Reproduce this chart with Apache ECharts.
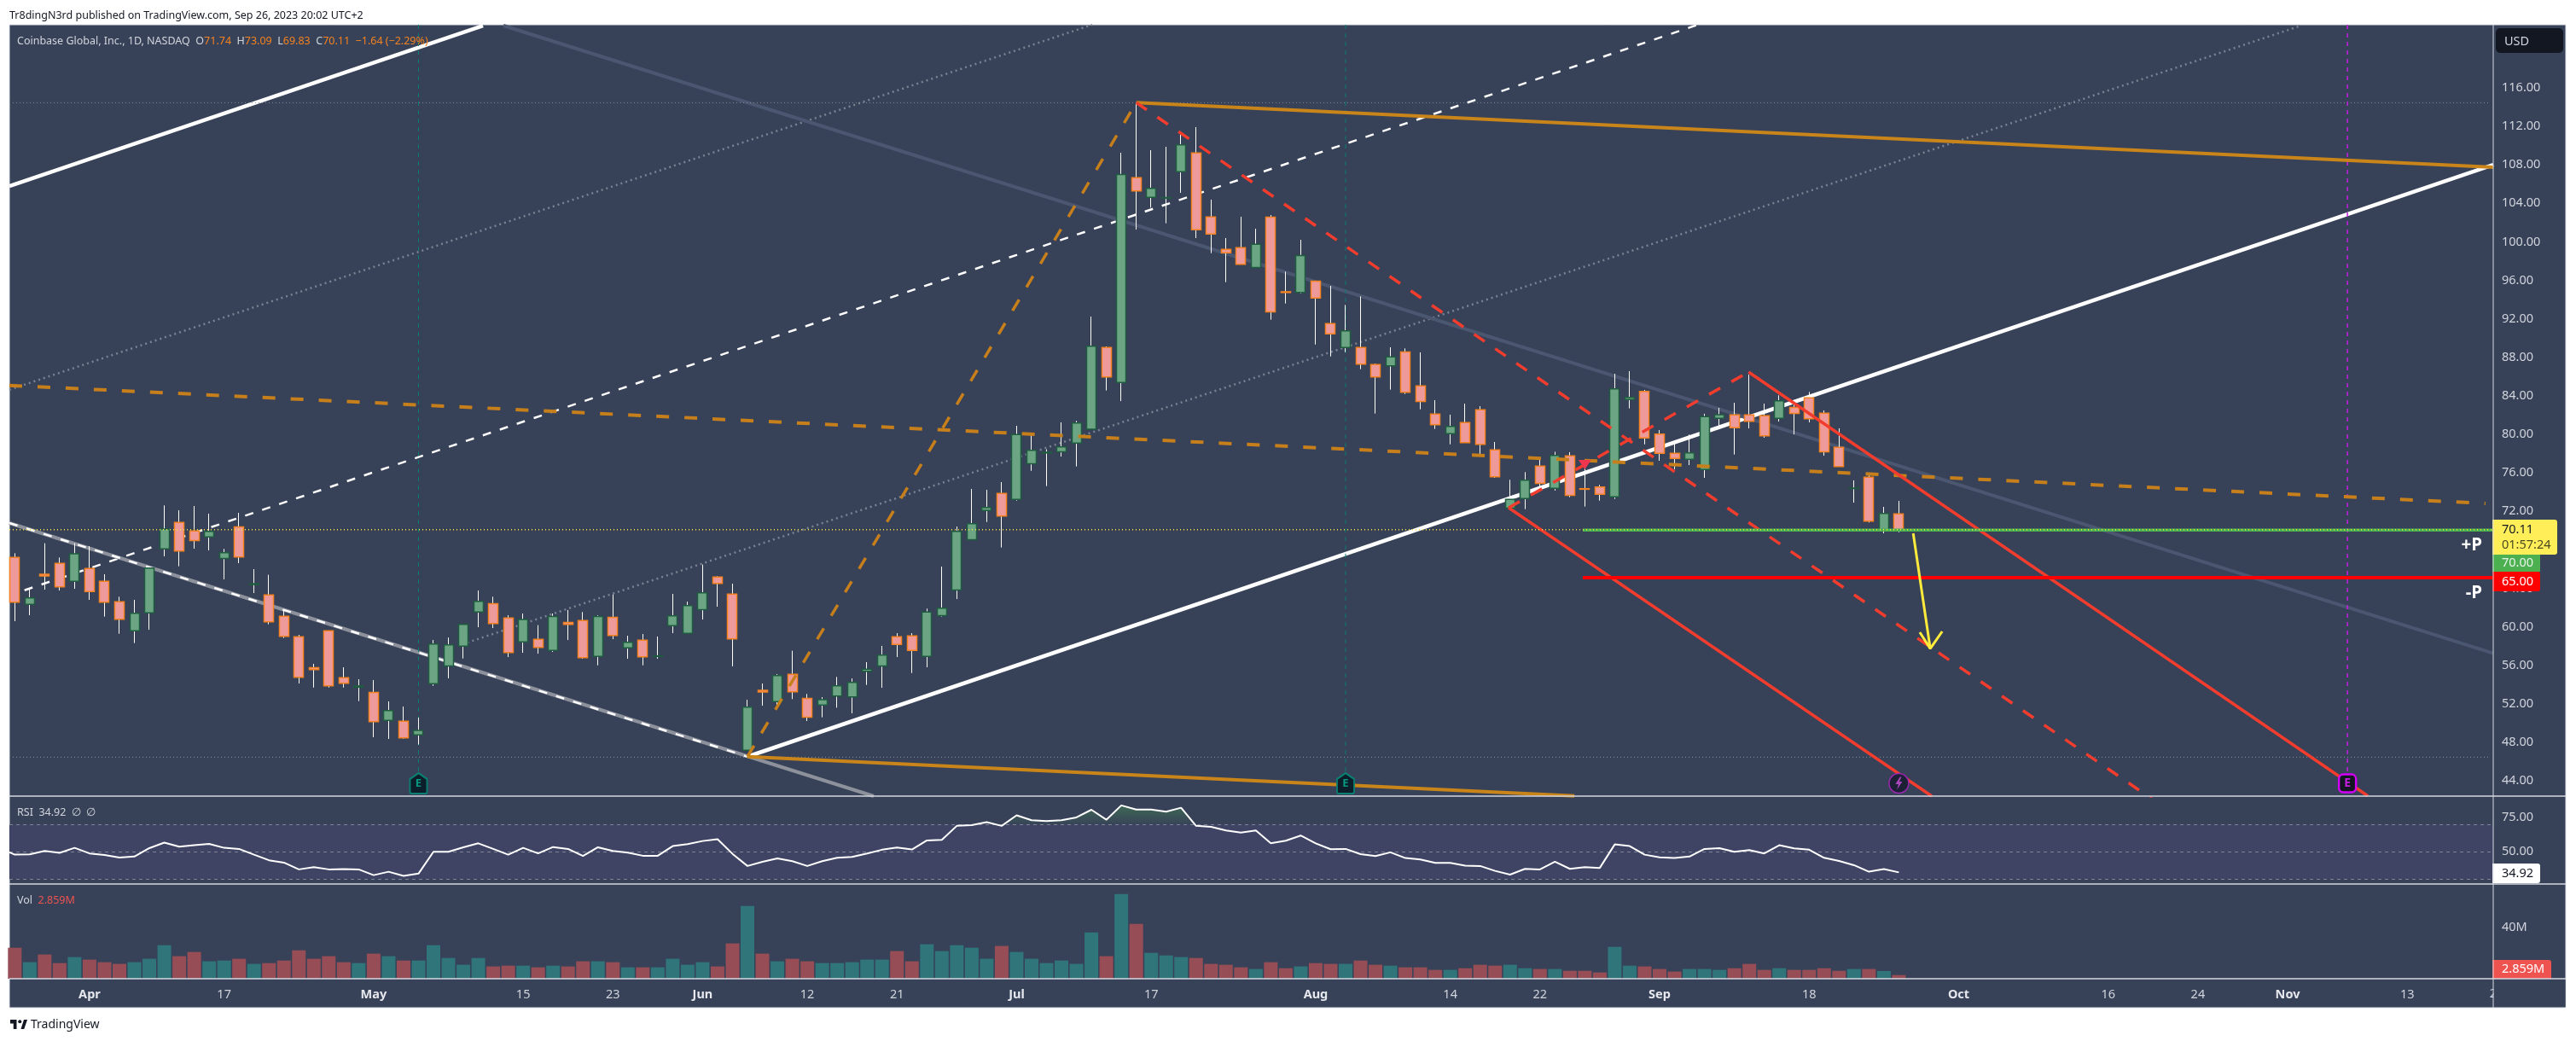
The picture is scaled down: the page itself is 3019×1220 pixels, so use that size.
<!DOCTYPE html>
<html lang="en">
<head>
<meta charset="utf-8">
<title>COIN 1D</title>
<script src="https://cdn.jsdelivr.net/npm/echarts@6/dist/echarts.min.js"></script>
<style>
  html, body { margin: 0; padding: 0; background: #fff; }
  #main { width: 3019px; height: 1220px; }
</style>
</head>
<body>
<div id="main"></div>
<script>
// candles, one entry per trading day from Mar 27 2023
var opens = [67.21,62.34,65.47,66.59,64.73,66.06,64.73,62.6,59.59,61.45,68.1,70.85,69.96,69.34,67.12,70.4,64.4,63.31,61.1,58.97,55.77,59.59,54.71,53.74,53.2,50.28,50.19,48.77,54.09,55.95,57.99,61.54,62.42,60.92,58.44,58.7,57.55,60.47,60.65,56.93,61.0,57.82,58.61,56.93,60.12,59.32,61.8,65.17,63.4,47.18,53.41,52.23,55.07,52.58,51.88,52.82,52.73,55.39,55.95,58.97,59.06,56.93,61.18,63.84,69.07,72.09,73.86,73.24,76.96,78.07,78.2,79.09,80.54,89.02,85.39,106.66,104.62,104.55,107.28,109.23,102.59,99.22,99.39,97.35,102.58,94.82,94.75,95.93,91.5,89.02,89.02,87.25,87.13,88.57,85.03,82.11,80.07,81.22,82.55,78.38,72.35,73.33,76.7,74.39,77.76,74.36,74.54,73.51,83.61,84.47,80.04,78.03,77.41,76.34,81.66,82.02,82.02,81.93,81.66,82.81,83.79,82.2,78.65,74.38,75.55,70.02,71.74];
var closes = [62.57,63.02,65.29,64.17,67.6,63.67,62.57,60.8,61.42,66.12,70.17,67.89,68.96,69.93,67.71,67.27,64.49,60.53,59.03,54.77,55.57,53.88,54.15,53.86,50.16,51.31,48.48,49.25,58.23,58.14,60.27,62.66,60.36,57.34,60.77,57.87,61.07,60.27,56.81,61.07,59.11,58.41,56.9,56.99,61.15,62.22,63.55,64.52,58.76,51.67,53.24,54.95,53.26,50.61,52.44,53.88,54.24,55.6,57.08,58.17,57.55,61.54,61.95,69.93,70.73,72.41,71.53,79.98,78.35,78.15,78.71,81.19,89.17,85.98,107.0,105.3,105.57,104.6,110.09,101.26,100.81,98.86,97.68,99.75,92.74,94.74,98.59,94.16,90.44,90.76,87.31,85.98,88.05,84.38,83.41,81.01,80.83,79.15,78.97,75.6,73.24,75.25,74.92,77.82,73.68,74.3,73.77,84.73,83.85,79.62,78.03,77.5,78.09,81.84,82.05,80.69,81.37,79.86,83.49,82.17,81.63,78.18,76.67,74.42,70.99,71.79,70.11];
var lows = [60.59,61.21,63.87,63.78,63.96,62.81,61.07,59.29,58.32,59.7,67.33,66.3,68.13,67.95,64.94,66.62,63.52,60.27,58.85,54.12,53.7,53.7,53.7,52.29,48.53,48.36,48.39,47.77,53.88,54.65,56.72,59.97,59.88,56.87,57.31,57.22,57.4,58.64,56.69,56.01,58.73,56.69,56.01,56.69,59.35,59.29,60.77,62.1,55.9,47.12,51.82,51.7,52.5,50.22,50.61,51.61,51.02,53.97,53.68,56.87,55.21,55.81,61.07,62.9,69.07,70.9,68.25,73.12,76.22,74.63,77.7,76.67,80.54,84.56,83.46,101.28,103.56,101.94,105.1,100.4,98.83,95.82,97.68,97.35,91.92,93.6,94.63,89.34,88.1,88.55,86.78,82.17,84.65,84.2,82.61,80.57,78.97,79.15,77.91,75.49,72.3,72.24,74.6,74.16,73.48,72.5,73.12,73.3,82.7,78.97,77.26,76.37,76.81,75.49,80.8,77.91,80.63,79.65,81.34,80.0,81.25,77.79,76.67,72.91,70.85,69.72,69.83];
var highs = [67.65,63.96,68.69,67.21,68.69,68.39,65.47,63.13,62.81,66.12,72.62,72.12,72.56,71.76,68.1,71.85,66.0,65.41,61.75,59.17,56.16,59.59,55.8,54.56,54.47,52.26,51.73,50.58,58.64,58.9,60.27,63.78,63.13,61.21,61.39,60.18,61.39,61.75,61.54,61.21,63.37,59.08,59.26,59.0,63.43,62.63,66.47,65.26,64.49,52.44,54.12,55.1,57.52,53.03,52.7,54.8,54.65,56.34,58.02,59.35,59.35,61.9,66.27,70.43,74.33,74.24,75.04,80.89,80.01,78.44,81.25,81.4,92.24,89.14,109.26,114.46,109.53,109.88,111.12,111.92,104.39,100.4,102.61,101.37,102.79,96.91,100.22,95.93,95.43,93.45,94.34,87.36,89.05,88.93,88.52,83.55,82.05,83.2,82.93,79.21,75.28,76.08,77.52,78.2,78.15,77.26,74.75,86.3,86.57,84.62,80.45,79.36,79.98,82.14,82.76,83.29,86.21,83.2,84.06,83.11,84.41,82.49,80.63,75.22,76.02,72.47,73.09];

// volume in millions
var volumes = [24.2,12.9,18.9,12.2,16.9,14.9,12.9,11.6,12.9,15.6,26.2,17.6,20.9,13.6,14.2,15.6,11.6,12.2,14.2,22.2,15.6,17.6,12.9,12.2,19.6,17.6,14.2,14.2,26.2,16.2,10.9,16.2,9.6,10.2,10.2,8.9,10.2,9.6,13.6,13.6,12.9,8.9,8.9,8.9,15.6,10.9,12.9,9.6,27.6,56.9,19.6,13.6,15.6,13.6,12.2,12.2,12.9,14.9,14.9,21.6,13.6,26.9,21.6,26.2,24.2,15.6,25.6,20.9,15.6,12.2,14.2,11.6,36.2,17.6,66.2,42.9,20.2,18.2,16.9,16.2,11.6,10.9,8.9,7.6,12.9,8.2,9.6,12.2,11.6,11.6,14.2,10.9,10.2,8.9,8.9,6.9,6.9,8.2,10.9,10.2,10.9,8.2,7.6,7.6,6.2,6.2,4.9,24.9,10.2,9.6,7.6,5.6,7.6,7.6,6.9,8.2,11.6,6.9,8.2,6.9,6.9,8.2,6.2,7.6,7.6,6.0,2.859];

var rsi = [47.9,48.1,50.6,49.2,52.9,48.8,47.7,45.8,46.5,52.7,56.7,53.7,54.8,55.8,52.9,52.1,47.9,43.8,42.1,37.1,38.8,37.1,37.3,37.1,32.9,35.4,32.3,34.0,50,50,53.3,56.2,52.1,47.9,52.9,48.8,53.5,52.1,46.9,53.3,50.6,49.4,47.1,47.1,54.2,55.6,57.9,59.2,48.5,39.6,42.7,45.2,43.1,39.6,43.1,45.6,46.3,48.8,51.5,53.1,51.7,58.3,58.7,69.0,69.6,71.7,69.0,76.7,73.1,72.5,73.1,75.2,80.8,73.5,84.0,81.0,81.0,79.4,82.3,69.0,68.3,65.6,64.0,65.6,56.2,58.1,61.9,56.2,51.9,52.1,48.3,46.9,49.6,45.4,44.4,41.9,41.9,39.8,39.6,36.0,33.3,37.5,37.1,42.7,37.5,38.8,38.2,55.4,54.2,47.9,46.0,45.4,46.5,52.1,52.7,50.0,51.2,48.8,54.8,52.5,51.5,45.6,43.3,40.2,35.4,37.3,34.92];
// the line comes in from the bar before the first one shown
var rsiLead = [-0.36,49.6];

// axis ticks
var priceTicks = [44,48,52,56,60,64,68,72,76,80,84,88,92,96,100,104,108,112,116];
var rsiTicks = [50,75];
var rsiBands = [30,50,70];
var volTicks = [40];
var timeTickIdx = [5,14,24,34,40,46,53,59,67,76,87,96,102,110,120,130,140,146,152,160];
var timeTickText = ['Apr','17','May','15','23','Jun','12','21','Jul','17','Aug','14','22','Sep','18','Oct','16','24','Nov','13'];
var monthTicks = ['Apr','May','Jun','Jul','Aug','Sep','Oct','Nov'];

// drawings, [bar index, price]
var channelUpper = [[-0.36,105.8],[31.31,122.47]];
var channelMain = [[49,46.52],[165.75,108.02]];
var channelMid = [[0.65,63.81],[112.56,122.56]];
var dottedUpper = [[-0.36,84.64],[72.05,122.56]];
var dottedLower = [[29.94,58.2],[152.9,122.47]];
var slateLine = [[32.68,122.47],[165.75,57.25]];
var fallLine = [[-0.36,70.79],[57.44,42.42]];
var fallDash = [[-0.36,70.79],[49,46.52]];
var orangeTop = [[75,114.47],[165.75,107.75]];
var orangeBottom = [[49,46.52],[104.3,42.45]];
var orangeMid = [[-0.36,85.09],[165.23,72.83]];
var orangeDiag = [[49,46.52],[75,114.47]];
var redMid = [[75,114.47],[143.4,41.62]];
var redUpper = [[115.95,86.48],[157.36,42.44]];
var redLower = [[99.9,72.38],[128.2,42.42]];
var redRise = [[99.9,72.38],[115.95,86.48]];
var profitLine = [[104.86,70.05],[165.75,70.05]];
var lossLine = [[104.86,65.11],[165.75,65.11]];
var lastPrice = [[-0.36,70.11],[165.75,70.11]];
var highLine = [[-0.36,114.46],[165.5,114.46]];
var lowLine = [[-0.36,46.47],[165.5,46.47]];
var arrowShaft = [[126.96,69.72],[128.1,57.75]];
var arrowHead = [[127.4,59.44],[128.1,57.75],[128.9,59.53]];
var earningsTeal = [27,89];
var earningsNext = [156];
var newsBar = [126];
var markerPrice = 43.75;

var pane = '#374258';
var axisText = '#d1d4dc';
var sep = '#d6d9e0';
var font = '"Noto Sans", sans-serif';
var xMin = -0.36, xMax = 165.75;

function seg(points, color, width, dash, z) {
    return {
        type: 'line', data: points, xAxisIndex: 0, yAxisIndex: 0,
        symbol: 'none', silent: true, z: z,
        lineStyle: { color: color, width: width, type: dash || 'solid', cap: 'butt' }
    };
}

function vdash(idx, color, width) {
    return seg([[idx,122.56],[idx,44.8]], color, width, [5,5], 1);
}

function marker(idx, symbol, size, fill, border, borderW, text, textColor, fontSize) {
    return {
        type: 'scatter', xAxisIndex: 0, yAxisIndex: 0, z: 9, silent: true,
        symbol: symbol, symbolSize: size,
        data: idx.map(function (i) { return [i, markerPrice]; }),
        itemStyle: { color: fill, borderColor: border, borderWidth: borderW, opacity: 1 },
        label: { show: !!text, formatter: text || '', position: 'inside', color: textColor,
                 fontFamily: font, fontWeight: 'bold', fontSize: fontSize || 13 }
    };
}

var series = [];

// lines behind the candles
series.push(seg(channelUpper, '#ffffff', 4.5, null, 1));
series.push(seg(channelMain, '#ffffff', 4.5, null, 1));
series.push(seg(channelMid, '#ffffff', 2.5, [10,11], 1));
series.push(seg(dottedUpper, '#7b8291', 2.5, [2,4], 1));
series.push(seg(dottedLower, '#7b8291', 2.5, [2,4], 1));
series.push(seg(slateLine, '#4b5770', 4, null, 1));
series.push(seg(fallLine, '#8d919c', 4, null, 1));
series.push(seg(fallDash, '#ffffff', 2.5, [10,11], 1));
series.push(seg(highLine, '#8b909b', 1, [1,3], 1));
series.push(seg(lowLine, '#8b909b', 1, [1,3], 1));
series.push(vdash(27, '#0b7f71', 1));
series.push(vdash(89, '#0b7f71', 1));
series.push(seg([[156,122.56],[156,44.8]], '#c41ee0', 1.5, [5,5], 1));

// wicks and bodies are two series so that wicks stay white
series.push({
    type: 'candlestick', xAxisIndex: 0, yAxisIndex: 0, z: 3, silent: true,
    barWidth: 1,
    encode: { x: 0, y: [1,2,3,4] },
    itemStyle: { color: '#ffffff', color0: '#ffffff', borderColor: '#ffffff', borderColor0: '#ffffff', borderWidth: 1 },
    data: opens.map(function (o, i) { return [i, lows[i], highs[i], lows[i], highs[i]]; })
});
series.push({
    type: 'candlestick', xAxisIndex: 0, yAxisIndex: 0, z: 4, silent: true,
    barWidth: 11.5,
    encode: { x: 0, y: [1,2,3,4] },
    itemStyle: { color: '#6ca584', color0: '#ef9a9a', borderColor: '#1e5c3f', borderColor0: '#f5821f', borderWidth: 1.5 },
    data: opens.map(function (o, i) {
        return [i, o, closes[i], Math.min(o, closes[i]), Math.max(o, closes[i])];
    })
});

// lines over the candles
series.push(seg(orangeTop, '#c98519', 4, null, 5));
series.push(seg(orangeBottom, '#c98519', 4, null, 5));
series.push(seg(orangeMid, '#c67f1a', 4, [15,18], 5));
series.push(seg(orangeDiag, '#c67f1a', 3.5, [15,17], 5));
series.push(seg(redMid, '#f23d2e', 3.5, [15,15], 5));
series.push(seg(redUpper, '#f23d2e', 3.5, null, 5));
series.push(seg(redLower, '#f23d2e', 3.5, null, 5));
series.push(seg(redRise, '#f23d2e', 3.5, [15,15], 5));
series.push(seg(profitLine, '#4caf50', 3.5, null, 6));
series.push(seg(lossLine, '#ff0000', 4, null, 6));
series.push(seg(lastPrice, '#ffeb3b', 1.5, [1,3], 7));
series.push(seg(arrowShaft, '#ffeb3b', 3, null, 7));
series.push(seg(arrowHead, '#ffeb3b', 3, null, 7));

// trade marker and calendar markers
series.push({
    type: 'scatter', xAxisIndex: 0, yAxisIndex: 0, z: 8, silent: true,
    symbol: 'triangle', symbolRotate: 180, symbolSize: [15,11],
    data: [[105, 76.86]],
    itemStyle: { color: '#f0364f', opacity: 1 }
});
series.push(marker(earningsTeal, 'path://M10 0 L20 7 L20 22 Q20 24 18 24 L2 24 Q0 24 0 22 L0 7 Z', [20,24], '#0b1e2a', '#0b7f71', 2, 'E', '#089981', 13));
series.push(marker(earningsNext, 'roundRect', [20,21], '#131722', '#d500f9', 2.5, 'E', '#c41ee0', 14));
series.push(marker(newsBar, 'circle', 23, '#1c2035', '#9c27b0', 1.5));
series.push(marker(newsBar, 'path://M6 0 L0 9 L4 9 L2 16 L9 6 L5 6 L8 0 Z', [8,15], '#ab47bc', '#ab47bc', 0));

// RSI pane
series.push({
    type: 'line', xAxisIndex: 1, yAxisIndex: 1, symbol: 'none', silent: true, z: 2,
    data: rsi.map(function (v, i) { return [i, Math.max(v, 70)]; }),
    lineStyle: { width: 0 },
    areaStyle: {
        origin: 70, opacity: 1,
        color: new echarts.graphic.LinearGradient(0, 0, 0, 1, [
            { offset: 0, color: 'rgba(76,175,80,0.35)' },
            { offset: 1, color: 'rgba(76,175,80,0.02)' }
        ])
    }
});
series.push({
    type: 'line', xAxisIndex: 1, yAxisIndex: 1, symbol: 'none', silent: true, z: 3,
    data: [rsiLead].concat(rsi.map(function (v, i) { return [i, v]; })),
    lineStyle: { color: '#ffffff', width: 2 },
    markArea: {
        silent: true, z: 1,
        itemStyle: { color: '#3f4465' },
        data: [[{ yAxis: rsiBands[0] }, { yAxis: rsiBands[2] }]]
    },
    markLine: {
        silent: true, symbol: 'none', animation: false, z: 2,
        label: { show: false },
        lineStyle: { color: '#7f8494', width: 1, type: [4,4] },
        data: rsiBands.map(function (v) { return { yAxis: v }; })
    }
});

// volume pane
series.push({
    type: 'bar', xAxisIndex: 2, yAxisIndex: 2, barWidth: 16, silent: true,
    data: volumes.map(function (v, i) {
        return { value: [i, v], itemStyle: { color: closes[i] >= opens[i] ? '#2f757a' : '#964d55' } };
    })
});

function hideAxis(idx) {
    return { type: 'value', gridIndex: idx, min: xMin, max: xMax, show: false };
}

function priceAxis(idx, min, max, ticks, fmt) {
    return {
        type: 'value', gridIndex: idx, position: 'right', min: min, max: max,
        splitLine: { show: false }, axisTick: { show: false }, axisLine: { show: false },
        axisLabel: { margin: 10, color: axisText, fontFamily: font, fontSize: 14.5, customValues: ticks, formatter: fmt }
    };
}

function money(v) { return v.toFixed(2); }

var rects = [];

function box(x, y, w, h, fill, r) {
    rects.push({ type: 'rect', z: 100, silent: true, shape: { x: x, y: y, width: w, height: h, r: r || 0 }, style: { fill: fill } });
}

function hline(x1, x2, y, w) {
    rects.push({ type: 'line', z: 101, silent: true, shape: { x1: x1, y1: y, x2: x2, y2: y }, style: { stroke: sep, lineWidth: w || 1.5 } });
}

function txt(x, y, text, color, size, weight, align, z) {
    rects.push({ type: 'text', z: z || 102, silent: true, x: x, y: y, style: {
        text: text, fill: color, font: (weight || 'normal') + ' ' + size + 'px ' + font,
        align: align || 'left', verticalAlign: 'middle'
    } });
}

// background goes under everything
var backdrop = { type: 'rect', z: -1, silent: true, shape: { x: 11, y: 29, width: 2996, height: 1152 },
    style: { fill: pane, stroke: '#e0e3eb', lineWidth: 1 } };

// the next date label is cut off by the price scale
txt(2926, 1165, '20', axisText, 14.5, 'normal', 'center', 99);
box(2922.5, 1148, 84, 32, pane);
hline(11, 3007, 933);
hline(11, 3007, 1036);
hline(11, 3007, 1147);
rects.push({ type: 'line', z: 101, silent: true, shape: { x1: 2922, y1: 29, x2: 2922, y2: 1181 }, style: { stroke: sep, lineWidth: 1 } });

// price tags
box(2925, 33, 79, 29, '#131722', 5);
txt(2935, 49, 'USD', axisText, 14.5);
box(2921, 609, 76, 41, '#ffee58', [0,3,3,0]);
txt(2932, 621, '70.11', '#131722', 14.5);
txt(2932, 639, '01:57:24', '#4a4a20', 14.5);
box(2921, 650, 56, 20, '#4caf50');
txt(2932, 660, '70.00', '#e8f5e9', 14.5);
box(2921, 670, 56, 23, '#ff0000', [0,3,3,0]);
txt(2932, 682, '65.00', '#ffffff', 14.5);
box(2921, 1012, 56, 23, '#ffffff', [0,3,3,0]);
txt(2932, 1024, '34.92', '#131722', 14.5);
box(2921, 1125, 69, 22, '#ef5350', [0,3,0,0]);
txt(2932, 1136, '2.859M', '#ffffff', 14.5);
txt(2909, 639, '+P', '#ffffff', 20.5, 'bold', 'right');
txt(2909, 695, '-P', '#ffffff', 20.5, 'bold', 'right');

// legends
txt(11, 18, 'Tr8dingN3rd published on TradingView.com, Sep 26, 2023 20:02 UTC+2', '#131722', 12.5);
rects.push({ type: 'text', z: 102, silent: true, x: 20, y: 48, style: {
    text: 'Coinbase Global, Inc., 1D, NASDAQ  O{o|71.74}  H{o|73.09}  L{o|69.83}  C{o|70.11}  {o|\u22121.64 (\u22122.29%)}',
    fill: axisText, font: '12.5px ' + font, verticalAlign: 'middle',
    rich: { o: { fill: '#f5821f', font: '12.5px ' + font } }
} });
txt(20, 952, 'RSI  34.92  \u2205  \u2205', axisText, 12.5);
rects.push({ type: 'text', z: 102, silent: true, x: 20, y: 1055, style: {
    text: 'Vol  {r|2.859M}', fill: axisText, font: '12.5px ' + font, verticalAlign: 'middle',
    rich: { r: { fill: '#ef5350', font: '12.5px ' + font } }
} });

// footer logo and name
function logoPt(X, Y) { return [12 + (X - 2) * 0.625, 1195 + (Y - 6) * 0.73]; }
rects.push({ type: 'polygon', z: 102, silent: true,
    shape: { points: [[2,6],[14,6],[14,21],[8,21],[8,12],[2,12]].map(function (p) { return logoPt(p[0], p[1]); }) },
    style: { fill: '#131722' } });
rects.push({ type: 'polygon', z: 102, silent: true,
    shape: { points: [[22,21],[28,21],[34,6],[27.6,6]].map(function (p) { return logoPt(p[0], p[1]); }) },
    style: { fill: '#131722' } });
rects.push({ type: 'circle', z: 102, silent: true,
    shape: { cx: logoPt(20, 9)[0], cy: logoPt(20, 9)[1], r: 2 },
    style: { fill: '#131722' } });
txt(36, 1201, 'TradingView', '#131722', 14);

var option = {
    animation: false,
    backgroundColor: '#ffffff',
    grid: [
        { left: 11, top: 29, width: 2911, height: 904 },
        { left: 11, top: 933, width: 2911, height: 103 },
        { left: 11, top: 1036, width: 2911, height: 111 }
    ],
    xAxis: [hideAxis(0), hideAxis(1), {
        type: 'value', gridIndex: 2, min: xMin, max: xMax,
        splitLine: { show: false }, axisTick: { show: false }, axisLine: { show: false },
        axisLabel: {
            margin: 11, fontFamily: font,
            customValues: timeTickIdx,
            formatter: function (v) {
                var t = timeTickText[timeTickIdx.indexOf(Math.round(v))];
                return monthTicks.indexOf(t) >= 0 ? '{m|' + t + '}' : '{d|' + t + '}';
            },
            rich: {
                m: { color: '#e6e8ee', fontWeight: 'bold', fontSize: 14.5, fontFamily: font },
                d: { color: axisText, fontSize: 14.5, fontFamily: font }
            }
        }
    }],
    yAxis: [
        priceAxis(0, 42.42, 122.56, priceTicks, money),
        priceAxis(1, 26.4, 90.8, rsiTicks, money),
        priceAxis(2, 0, 74, volTicks, function (v) { return v + 'M'; })
    ],
    graphic: { elements: [backdrop].concat(rects) },
    series: series
};

var chart = echarts.init(document.getElementById('main'));
chart.setOption(option);
</script>
</body>
</html>
